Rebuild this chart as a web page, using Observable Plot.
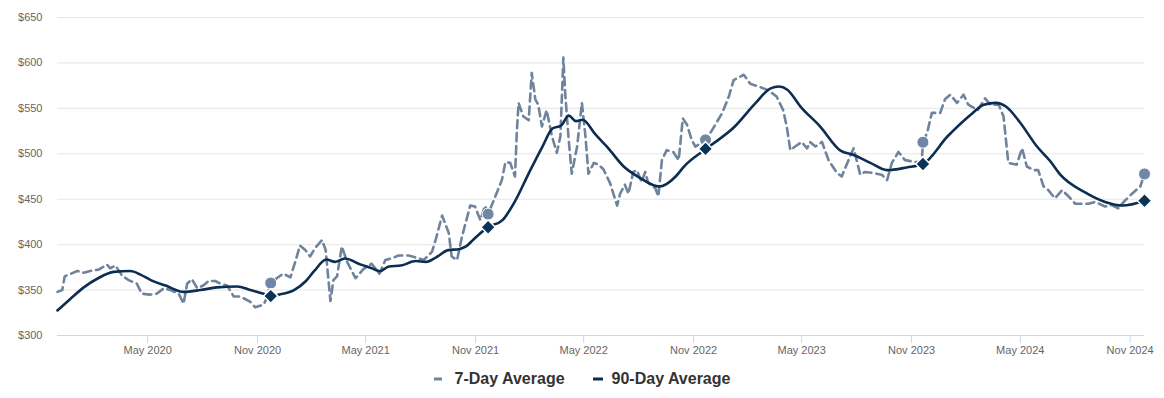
<!DOCTYPE html>
<html><head><meta charset="utf-8">
<script src="https://cdn.jsdelivr.net/npm/d3@7"></script>
<script src="https://cdn.jsdelivr.net/npm/@observablehq/plot@0.6"></script>
<style>
body{margin:0;background:#fff;font-family:"Liberation Sans",Arial,sans-serif;}
#legend{display:flex;justify-content:center;align-items:center;height:38px;font-weight:bold;font-size:16px;color:#333;}
#legend .item{display:flex;align-items:center;}
#legend .item + .item{margin-left:26px;}
#legend svg{margin-right:5px;}
</style></head><body>
<div id="chart"></div>
<div id="legend">
  <span class="item"><svg width="16" height="10"><line x1="0" x2="8" y1="5" y2="5" stroke="#6f849c" stroke-width="3"/></svg><span>7-Day Average</span></span>
  <span class="item"><svg width="16" height="10"><line x1="2" x2="12" y1="5" y2="5" stroke="#0c2d52" stroke-width="3"/></svg><span>90-Day Average</span></span>
</div>
<script>
const sevenDayDates = ["2019-12-02","2019-12-10","2019-12-14","2019-12-21","2020-01-04","2020-01-15","2020-01-29","2020-02-09","2020-02-23","2020-02-28","2020-03-08","2020-03-19","2020-03-30","2020-04-13","2020-04-21","2020-05-05","2020-05-16","2020-05-28","2020-06-08","2020-06-22","2020-06-30","2020-07-06","2020-07-14","2020-07-23","2020-08-02","2020-08-11","2020-08-22","2020-08-31","2020-09-11","2020-09-22","2020-10-03","2020-10-20","2020-10-28","2020-11-11","2020-11-17","2020-11-23","2020-12-03","2020-12-14","2020-12-26","2021-01-03","2021-01-11","2021-01-20","2021-01-28","2021-02-05","2021-02-17","2021-02-23","2021-03-03","2021-03-08","2021-03-14","2021-03-22","2021-03-31","2021-04-14","2021-04-27","2021-05-11","2021-05-24","2021-06-03","2021-06-14","2021-06-25","2021-07-12","2021-07-23","2021-08-06","2021-08-20","2021-08-26","2021-09-06","2021-09-17","2021-09-22","2021-10-01","2021-10-09","2021-10-15","2021-10-23","2021-10-31","2021-11-09","2021-11-17","2021-11-22","2021-12-04","2021-12-15","2021-12-21","2021-12-29","2022-01-06","2022-01-09","2022-01-12","2022-01-20","2022-01-29","2022-02-03","2022-02-09","2022-02-14","2022-02-20","2022-02-28","2022-03-09","2022-03-17","2022-03-23","2022-03-28","2022-03-31","2022-04-06","2022-04-11","2022-04-20","2022-04-28","2022-05-04","2022-05-09","2022-05-18","2022-05-26","2022-06-03","2022-06-14","2022-06-26","2022-07-01","2022-07-09","2022-07-15","2022-07-23","2022-07-29","2022-08-06","2022-08-12","2022-08-17","2022-08-29","2022-09-03","2022-09-09","2022-09-17","2022-09-28","2022-10-07","2022-10-14","2022-10-21","2022-10-29","2022-11-04","2022-11-15","2022-11-21","2022-12-02","2022-12-19","2022-12-30","2023-01-07","2023-01-24","2023-02-04","2023-02-18","2023-03-06","2023-03-20","2023-03-31","2023-04-06","2023-04-12","2023-04-20","2023-05-01","2023-05-10","2023-05-15","2023-05-24","2023-06-04","2023-06-15","2023-06-29","2023-07-07","2023-07-21","2023-07-27","2023-08-01","2023-08-07","2023-08-15","2023-08-27","2023-09-12","2023-09-21","2023-09-29","2023-10-10","2023-10-21","2023-11-07","2023-11-18","2023-11-20","2023-11-27","2023-12-05","2023-12-19","2023-12-27","2024-01-05","2024-01-16","2024-01-27","2024-02-04","2024-02-20","2024-03-03","2024-03-12","2024-03-26","2024-04-03","2024-04-11","2024-04-25","2024-05-04","2024-05-12","2024-05-23","2024-05-31","2024-06-09","2024-06-17","2024-06-28","2024-07-10","2024-07-21","2024-08-01","2024-08-23","2024-09-03","2024-09-20","2024-10-01","2024-10-12","2024-10-24","2024-11-04","2024-11-18","2024-11-25"];
const sevenDayValues = [348,350,365,367,371,369,371.5,372.5,378,374,377,366,361,357,346,345,346,352,350,346,335,357,362,352,355,360,360,357,355,343,343,337,331,334,342,357.7,363,368,364,381,399,394,387,396,405,394,338,361,365,398,381,363,373,379,368,383,385,388,388,386,383,392,405,432,413,387,383,408,423,443,442,427,443,433.6,453,471,491,490,475,523,556,541,537,589,560,554,530,548,519,501,519,606,567,515,478,508,556,519,478,490,488,483,468,443,456,466,456,480,482,469,480,468,462,453,493,504,502,493,539,532,515,508,512,515.3,526,545,563,581,587,577,574,570,563,548,530,504,508,513,506,513,508,513,493,479,475,497,506,493,477,480,479,477,471,490,502,493,491,491,512.7,523,545,545,560,565,556,565,554,548,561,554,554,541,490,488,506,486,482,482,464,460,451,460,453,445,445,447,442,443.5,440,449,456,464,477.8];

const ninetyDayDates = ["2019-12-02","2019-12-23","2020-01-15","2020-02-08","2020-03-05","2020-04-02","2020-04-19","2020-05-06","2020-05-31","2020-06-30","2020-07-28","2020-08-25","2020-09-28","2020-10-20","2020-11-11","2020-11-23","2020-12-07","2021-01-01","2021-01-21","2021-02-04","2021-02-24","2021-03-11","2021-03-27","2021-04-23","2021-05-13","2021-05-25","2021-06-09","2021-06-29","2021-07-24","2021-08-10","2021-08-27","2021-09-16","2021-10-04","2021-10-16","2021-10-29","2021-11-22","2021-12-16","2022-01-07","2022-01-29","2022-02-21","2022-03-10","2022-03-24","2022-04-06","2022-04-18","2022-04-29","2022-05-21","2022-06-10","2022-07-07","2022-08-02","2022-09-05","2022-10-02","2022-10-16","2022-11-21","2023-01-09","2023-02-13","2023-03-10","2023-03-24","2023-04-07","2023-04-29","2023-06-01","2023-07-05","2023-07-27","2023-08-24","2023-09-21","2023-10-24","2023-11-20","2023-12-31","2024-02-08","2024-03-01","2024-03-21","2024-04-07","2024-04-30","2024-05-29","2024-06-20","2024-07-07","2024-08-16","2024-09-20","2024-10-19","2024-11-25"];
const ninetyDayValues = [327.6,340,353,363,370,371,367,361,355,348,350,353,354,350,346,343.4,345,350,360,371,383.6,381,384.7,378,373.6,370.7,376,377,382,381,386,394,395,398,406,419.2,427,449,478.5,508,528,531,542,536,537.4,521,507,486,474,464,475,486,505,530,556,572,574,570.5,552,530,503.5,498.7,490,482,485,488.8,519,543,554,556,552,535,508,492,477,458,447,443,448.3];

const markerDates = ["2020-11-23","2021-11-22","2022-11-21","2023-11-20","2024-11-25"];
const marker7Values = [357.7,433.6,515.3,512.7,477.8];
const marker90Values = [343.4,419.2,505.4,488.8,448.3];

const xTickDates = ["2020-05-01","2020-11-01","2021-05-01","2021-11-01","2022-05-01","2022-11-01","2023-05-01","2023-11-01","2024-05-01","2024-11-01"];
const yTicks = [300,350,400,450,500,550,600,650];

const sevenDay = sevenDayDates.map((d,i)=>({date:new Date(d), value:sevenDayValues[i]}));
const ninetyDay = ninetyDayDates.map((d,i)=>({date:new Date(d), value:ninetyDayValues[i]}));
const markers = markerDates.map((d,i)=>({date:new Date(d), v7:marker7Values[i], v90:marker90Values[i]}));
const xTicks = xTickDates.map(d=>new Date(d));

const chart = Plot.plot({
  width:1164, height:360,
  marginLeft:57, marginRight:20, marginTop:17, marginBottom:25,
  style:{fontFamily:"'Liberation Sans', Arial, sans-serif", fontSize:"11px", color:"#666", background:"#fff", overflow:"visible"},
  x:{type:"utc", domain:[new Date("2019-12-02"), new Date("2024-11-25")], label:null},
  y:{domain:[300,650], label:null},
  marks:[
    Plot.gridY(yTicks,{stroke:"#e6e6e6", strokeOpacity:1}),
    Plot.ruleY([300],{stroke:"#ccd6eb"}),
    Plot.axisY(yTicks,{tickSize:0, tickPadding:15, tickFormat:d=>"$"+d, fill:"#666", label:null}),
    Plot.axisX(xTicks,{tickSize:8, tickPadding:3, tickFormat:d3.utcFormat("%b %Y"), stroke:"#ccd6eb", fill:"#666", label:null}),
    Plot.line(sevenDay,{x:"date", y:"value", stroke:"#6f849c", strokeWidth:2.6, strokeDasharray:"8,5"}),
    Plot.line(ninetyDay,{x:"date", y:"value", stroke:"#0c2d52", strokeWidth:2.6, curve:"monotone-x"}),
    Plot.dot(markers,{x:"date", y:"v7", r:6, fill:"#6f87a4", stroke:"white", strokeWidth:1}),
    Plot.dot(markers,{x:"date", y:"v90", r:6.5, symbol:"diamond2", fill:"#0b3358", stroke:"white", strokeWidth:1.5})
  ]
});
document.getElementById("chart").appendChild(chart);
</script>
</body></html>
